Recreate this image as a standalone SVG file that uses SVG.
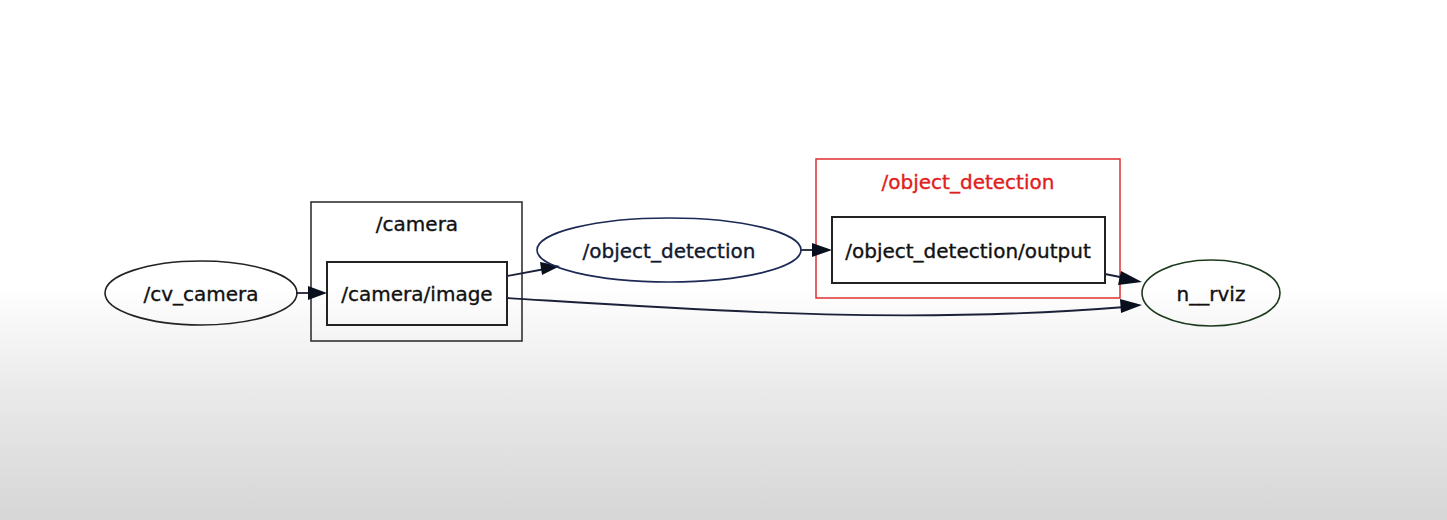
<svg xmlns="http://www.w3.org/2000/svg" width="1447" height="520" viewBox="0 0 1447 520">
<defs>
<linearGradient id="bg" x1="0" y1="0" x2="0" y2="1">
<stop offset="0" stop-color="#ffffff"/>
<stop offset="0.55" stop-color="#ffffff"/>
<stop offset="0.75" stop-color="#eaeaea"/>
<stop offset="1" stop-color="#d6d6d6"/>
</linearGradient>
<style>
.t{font-family:"DejaVu Sans",Verdana,sans-serif;font-size:20px;fill:#111;stroke:#111;stroke-width:0.35;text-anchor:middle;dominant-baseline:central}
.edge{fill:none;stroke:#1a2038;stroke-width:1.8}
.head{fill:#0a0f1e}
.box{fill:none;stroke:#222;stroke-width:2}
</style>
</defs>
<rect width="1447" height="520" fill="url(#bg)"/>
<g id="cluster_camera">
<rect x="311" y="202" width="211" height="139" fill="none" stroke="#333" stroke-width="1.6"/>
<text class="t" x="417" y="224">/camera</text>
</g>
<g id="cluster_object_detection">
<rect x="816" y="159" width="304" height="139" fill="none" stroke="#e03030" stroke-width="1.5"/>
<text class="t" x="968" y="182" style="fill:#e02020;stroke:#e02020">/object_detection</text>
</g>
<g id="edges">
<path class="edge" d="M296,293 L310,293"/>
<path class="head" d="M308,286 L327,293 L308,300 Z"/>
<path class="edge" d="M507,276 L545,269"/>
<path class="head" d="M540,262 L560,266 L542,275 Z"/>
<path class="edge" d="M801,250 L815,250"/>
<path class="head" d="M812,243 L832,250 L812,257 Z"/>
<path class="edge" d="M1105,274 L1125,278"/>
<path class="head" d="M1121,271 L1142,282 L1118,285 Z"/>
<path class="edge" d="M507,298 C700,310 900,325 1125,307"/>
<path class="head" d="M1120,299 L1142,305 L1121,313 Z"/>
</g>
<g id="cv_camera">
<ellipse cx="201" cy="293" rx="96" ry="32" fill="none" stroke="#222" stroke-width="1.6"/>
<text class="t" x="201" y="294">/cv_camera</text>
</g>
<g id="camera_image">
<rect class="box" x="327" y="262" width="180" height="63"/>
<text class="t" x="417" y="294">/camera/image</text>
</g>
<g id="object_detection">
<ellipse cx="669" cy="250" rx="132" ry="32" fill="none" stroke="#1c2a55" stroke-width="1.6"/>
<text class="t" x="669" y="251" style="fill:#101830;stroke:#101830">/object_detection</text>
</g>
<g id="object_detection_output">
<rect class="box" x="832" y="217" width="273" height="66"/>
<text class="t" x="968" y="251">/object_detection/output</text>
</g>
<g id="n__rviz">
<ellipse cx="1211" cy="293" rx="69" ry="33" fill="none" stroke="#1e3a1e" stroke-width="1.6"/>
<text class="t" x="1211" y="294">n__rviz</text>
</g>
</svg>
